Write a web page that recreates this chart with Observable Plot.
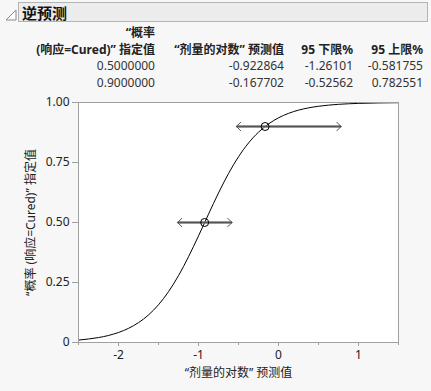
<!DOCTYPE html>
<html><head><meta charset="utf-8">
<script src="https://cdn.jsdelivr.net/npm/d3@7"></script>
<script src="https://cdn.jsdelivr.net/npm/@observablehq/plot@0.6"></script>
<style>
html,body{margin:0;padding:0;background:#f7f7f7;width:431px;height:391px;overflow:hidden;
font-family:"Noto Sans","Noto Sans CJK SC",sans-serif;color:#222;}
#wrap{position:relative;width:431px;height:391px;}
#hdr{position:absolute;left:18px;top:2px;width:410px;height:20px;background:#ececec;border:1px solid #b4b4b4;box-sizing:border-box;}
#hdr span{position:absolute;left:3px;top:-1px;font-size:15px;font-weight:bold;color:#111;font-family:"Noto Sans CJK SC",sans-serif;}
#tri{position:absolute;left:5px;top:9px;}
.t{position:absolute;font-size:12px;text-align:right;white-space:nowrap;line-height:16px;font-family:"Noto Sans","Noto Sans CJK SC",sans-serif;}
.b{font-weight:bold;color:#222;}
.v{color:#333;}
#plot{position:absolute;left:0;top:92px;}
</style></head><body><div id="wrap">
<svg id="tri" width="12" height="12"><path d="M1,11 L11,11 L11,1 Z" fill="#fff" stroke="#888" stroke-width="1"/></svg>
<div id="hdr"><span>逆预测</span></div>
<div id="table"></div>
<div id="plot"></div>
</div>
<script>
// Table content
const colHeads1 = ["“概率", "", "", ""];
const colHeads2 = ["(响应=Cured)” 指定值", "“剂量的对数” 预测值", "95 下限%", "95 上限%"];
const probText = ["0.5000000", "0.9000000"];
const predText = ["-0.922864", "-0.167702"];
const lowerText = ["-1.26101", "-0.52562"];
const upperText = ["-0.581755", "0.782551"];

// Plot values
const probs = [0.5, 0.9];
const preds = [-0.922864, -0.167702];
const lower = [-1.26101, -0.52562];
const upper = [-0.581755, 0.782551];

// fitted curve
const curveX = [-2.5,-2.25,-2.0,-1.75,-1.5,-1.25,-1.0,-0.75,-0.5,-0.25,0,0.25,0.5,0.75,1.0,1.25,1.5];
const curveY = [0.0101,0.0206,0.0417,0.0827,0.1572,0.2785,0.4441,0.6231,0.7739,0.8763,0.9361,0.9681,0.9843,0.9924,0.9963,0.9982,0.9991];

const xMajor = [-2,-1,0,1];
const xMinor = [-2.5,-1.5,-0.5,0.5,1.5];
const yTicks = [0,0.25,0.5,0.75,1];

// build table
const rights = [155, 284, 353, 423];
const tbl = document.getElementById("table");
function cell(txt, right, top, cls){
  const d = document.createElement("div");
  d.className = "t " + cls;
  d.textContent = txt;
  d.style.right = (431 - right) + "px";
  d.style.top = top + "px";
  tbl.appendChild(d);
}
colHeads1.forEach((t,i)=>{ if(t) cell(t, rights[i], 25, "b"); });
colHeads2.forEach((t,i)=>cell(t, rights[i], 42, "b"));
[probText,predText,lowerText,upperText].forEach((col,i)=>{
  col.forEach((t,j)=>cell(t, rights[i], 58 + j*17, "v"));
});

const curve = curveX.map((x,i)=>({x, y: curveY[i]}));
const pts = probs.map((p,i)=>({p, pred: preds[i], lo: lower[i], hi: upper[i]}));

const chart = Plot.plot({
  width: 431, height: 299,
  marginLeft: 78, marginRight: 33, marginTop: 10, marginBottom: 49,
  style: {background: "transparent", fontSize: "12px", fontFamily: "'Noto Sans','Noto Sans CJK SC',sans-serif", color: "#222"},
  x: {domain: [-2.5, 1.5]},
  y: {domain: [0, 1]},
  marks: [
    Plot.frame({fill: "white", stroke: null}),
    Plot.axisX({ticks: xMinor, tickSize: 3, stroke: "#a0a0a0", text: null, label: null}),
    Plot.axisX({ticks: xMajor, tickSize: 4, stroke: "#a0a0a0", tickPadding: 4, fill: "#222",
      tickFormat: d => String(d),
      label: "“剂量的对数” 预测值", labelAnchor: "center", labelArrow: "none", labelOffset: 34}),
    Plot.axisY({ticks: yTicks, tickSize: 6, stroke: "#a0a0a0", tickPadding: 3, fill: "#222",
      tickFormat: d => d === 0 ? "0" : d.toFixed(2),
      label: "“概率 (响应=Cured)” 指定值", labelAnchor: "center", labelArrow: "none", labelOffset: 52}),
    Plot.line(curve, {x: "x", y: "y", curve: "natural", stroke: "black", strokeWidth: 1}),
    Plot.link(pts, {x1: "lo", x2: "hi", y1: "p", y2: "p", stroke: "#7a7a7a", strokeWidth: 2.5}),
    Plot.arrow(pts, {x1: "pred", x2: "lo", y1: "p", y2: "p", stroke: "#555", strokeWidth: 1, headLength: 9, headAngle: 90}),
    Plot.arrow(pts, {x1: "pred", x2: "hi", y1: "p", y2: "p", stroke: "#555", strokeWidth: 1, headLength: 9, headAngle: 90}),
    Plot.dot(pts, {x: "pred", y: "p", r: 4, stroke: "black", strokeWidth: 1, fill: "none"}),
    Plot.frame({stroke: "#a0a0a0"})
  ]
});
document.getElementById("plot").appendChild(chart);
</script></body></html>
